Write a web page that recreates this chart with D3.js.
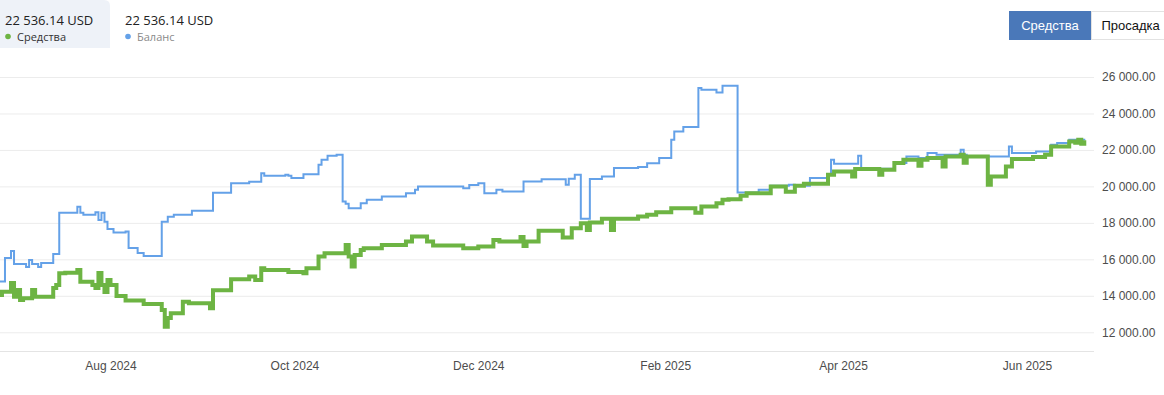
<!DOCTYPE html>
<html><head><meta charset="utf-8">
<script src="https://cdn.jsdelivr.net/npm/d3@7"></script>
<style>
body{margin:0;background:#fff;overflow:hidden}
svg{display:block}
</style></head>
<body>
<svg id="c" width="1164" height="395"></svg>
<script>
const balanceDates = ["2024-06-25","2024-06-27","2024-06-29","2024-06-30","2024-07-04","2024-07-05","2024-07-06","2024-07-08","2024-07-09","2024-07-13","2024-07-15","2024-07-21","2024-07-22","2024-07-23","2024-07-27","2024-07-28","2024-07-29","2024-07-30","2024-07-31","2024-08-02","2024-08-06","2024-08-07","2024-08-10","2024-08-12","2024-08-18","2024-08-20","2024-08-22","2024-08-28","2024-09-04","2024-09-10","2024-09-16","2024-09-20","2024-09-21","2024-09-28","2024-09-29","2024-09-30","2024-10-04","2024-10-09","2024-10-10","2024-10-12","2024-10-15","2024-10-17","2024-10-18","2024-10-19","2024-10-23","2024-10-25","2024-10-30","2024-11-07","2024-11-10","2024-11-11","2024-11-26","2024-11-28","2024-12-01","2024-12-03","2024-12-07","2024-12-09","2024-12-16","2024-12-22","2024-12-30","2024-12-31","2025-01-02","2025-01-04","2025-01-07","2025-01-11","2025-01-15","2025-01-23","2025-01-26","2025-01-30","2025-02-03","2025-02-04","2025-02-07","2025-02-12","2025-02-13","2025-02-18","2025-02-20","2025-02-25","2025-03-04","2025-03-08","2025-03-14","2025-03-16","2025-03-21","2025-03-27","2025-03-28","2025-03-29","2025-04-06","2025-04-07","2025-04-13","2025-04-18","2025-04-22","2025-04-26","2025-04-29","2025-05-02","2025-05-10","2025-05-11","2025-05-12","2025-05-26","2025-05-27","2025-06-04","2025-06-09","2025-06-11","2025-06-15","2025-06-20"];
const balanceValues = [14788,16078,16463,15749,15584,15968,15749,15584,15804,16298,18549,18878,18549,18439,18576,18164,18549,18055,17670,17467,17522,16627,16353,16188,18055,18329,18439,18659,19647,20168,20251,20728,20580,20635,20580,20454,20673,21184,21458,21678,21733,19169,19043,18807,19081,19262,19444,19630,19811,19993,19905,20075,20179,19630,19811,19718,20267,20399,20086,20420,20635,18219,20400,20542,21003,21058,21266,21552,22556,23012,23254,25395,25301,25153,25521,19663,19811,20031,20086,20031,20454,20635,21458,21239,21678,21003,20964,21277,21640,21552,21826,21733,22007,21733,21640,22189,21826,21914,22282,22375,22556,22536];

const equityDates = ["2024-06-25","2024-06-26","2024-06-29","2024-06-30","2024-07-01","2024-07-02","2024-07-03","2024-07-06","2024-07-07","2024-07-13","2024-07-14","2024-07-15","2024-07-17","2024-07-21","2024-07-22","2024-07-26","2024-07-27","2024-07-28","2024-07-29","2024-07-30","2024-07-31","2024-08-01","2024-08-03","2024-08-06","2024-08-12","2024-08-18","2024-08-19","2024-08-20","2024-08-21","2024-08-25","2024-08-27","2024-09-03","2024-09-04","2024-09-10","2024-09-16","2024-09-18","2024-09-20","2024-09-21","2024-09-29","2024-10-04","2024-10-05","2024-10-09","2024-10-11","2024-10-18","2024-10-19","2024-10-20","2024-10-21","2024-10-23","2024-10-24","2024-10-30","2024-11-07","2024-11-09","2024-11-14","2024-11-16","2024-11-26","2024-12-01","2024-12-06","2024-12-08","2024-12-15","2024-12-16","2024-12-17","2024-12-21","2024-12-29","2025-01-01","2025-01-04","2025-01-06","2025-01-07","2025-01-11","2025-01-14","2025-01-15","2025-01-23","2025-01-26","2025-01-29","2025-02-03","2025-02-11","2025-02-13","2025-02-18","2025-02-20","2025-02-22","2025-02-26","2025-02-28","2025-03-08","2025-03-13","2025-03-16","2025-03-19","2025-03-27","2025-03-29","2025-04-04","2025-04-05","2025-04-13","2025-04-14","2025-04-18","2025-04-21","2025-04-26","2025-04-27","2025-04-29","2025-05-04","2025-05-05","2025-05-10","2025-05-11","2025-05-12","2025-05-19","2025-05-20","2025-05-25","2025-05-27","2025-06-03","2025-06-07","2025-06-09","2025-06-15","2025-06-17","2025-06-18","2025-06-19","2025-06-20"];
const equityValues = [14047,14228,14706,13954,14321,13772,13866,14321,13954,14431,14596,15238,15271,15419,14777,14596,14431,15255,14596,14212,14870,14596,13992,13745,13553,13223,12307,12784,13042,13679,13591,13317,14300,14909,15052,14870,15513,15420,15310,15238,15513,16150,16336,16792,16150,15601,16243,16517,16611,16792,16973,17248,16973,16765,16611,16699,17066,16973,17231,16737,16973,17561,17204,17709,17983,17615,18016,18219,17615,18219,18346,18439,18576,18807,18557,18895,19081,19262,19301,19482,19630,19993,19700,20031,20141,20635,20816,20542,20948,20635,20909,21277,21458,21129,21458,21552,21091,21640,21733,21294,21640,20086,20542,21091,21497,21607,21733,22189,22463,22392,22556,22336,22536];

const xTickDates = ["2024-08-01","2024-10-01","2024-12-01","2025-02-01","2025-04-01","2025-06-01"];
const xTickLabels = ["Aug 2024","Oct 2024","Dec 2024","Feb 2025","Apr 2025","Jun 2025"];
const yTicks = [12000,14000,16000,18000,20000,22000,24000,26000];
const legendValues = ["22 536.14 USD","22 536.14 USD"];
const legendNames = ["Средства","Баланс"];
const buttonLabels = ["Средства","Просадка"];

const svg = d3.select("#c");
const plotLeft = 0, plotRight = 1094, plotBottom = 351;
const parse = d3.utcParse("%Y-%m-%d");

const x = d3.scaleUtc().domain([parse("2024-08-01"), parse("2025-06-01")]).range([110.5, 1027]);
const y = d3.scaleLinear().domain([11000, 26000]).range([350.5, 77]);

const fmt = v => d3.format(",.2f")(v).replace(/,/g, " ");

// gridlines + y labels
const yAxis = svg.append("g").attr("transform", `translate(${plotRight},0)`)
  .call(d3.axisRight(y).tickValues(yTicks).tickSize(-(plotRight - plotLeft)).tickPadding(8).tickFormat(fmt));
yAxis.select(".domain").remove();
yAxis.selectAll(".tick line").attr("stroke", "#ececec");
yAxis.selectAll(".tick text").attr("fill", "#4d4d4d").style("font-family", "'Liberation Sans', Arial, sans-serif").style("font-size", "12px");

// baseline
svg.append("line").attr("x1", plotLeft).attr("x2", plotRight).attr("y1", plotBottom + 0.5).attr("y2", plotBottom + 0.5).attr("stroke", "#e4e4e4");

// x axis
const xAxis = svg.append("g").attr("transform", `translate(0,${plotBottom})`)
  .call(d3.axisBottom(x).tickValues(xTickDates.map(parse)).tickSize(0).tickPadding(10).tickFormat((d, i) => xTickLabels[i]));
xAxis.select(".domain").remove();
xAxis.selectAll(".tick text").attr("fill", "#4d4d4d").style("font-family", "'Liberation Sans', Arial, sans-serif").style("font-size", "12px");

// lines
svg.append("clipPath").attr("id", "clip").append("rect").attr("x", plotLeft).attr("y", 50).attr("width", plotRight - plotLeft).attr("height", plotBottom - 50);
const line = d3.line().curve(d3.curveStepAfter).x(d => x(d[0])).y(d => y(d[1]));
const balance = balanceDates.map((d, i) => [parse(d), balanceValues[i]]);
const equity = equityDates.map((d, i) => [parse(d), equityValues[i]]);
const lines = svg.append("g").attr("clip-path", "url(#clip)");
lines.append("path").datum(balance).attr("d", line).attr("fill", "none").attr("stroke", "#64a1e8").attr("stroke-width", 2).attr("stroke-linejoin", "miter");
lines.append("path").datum(equity).attr("d", line).attr("fill", "none").attr("stroke", "#6db443").attr("stroke-width", 4).attr("stroke-linejoin", "miter");

// legend
svg.append("path").attr("d", "M0,0 H104 Q110,0 110,6 V48 H0 Z").attr("fill", "#eef2f8");
const legColors = ["#6db443", "#64a1e8"];
const legX = [5, 125];
const legNameColors = ["#333", "#8a8a8a"];
legendValues.forEach((v, i) => {
  svg.append("text").attr("x", legX[i]).attr("y", 25).text(v)
    .attr("fill", "#222").style("font-family", "'Open Sans', sans-serif").style("font-size", "13px");
  svg.append("circle").attr("cx", legX[i] + 3).attr("cy", 36.5).attr("r", 2.8).attr("fill", legColors[i]);
  svg.append("text").attr("x", legX[i] + 12).attr("y", 41).text(legendNames[i])
    .attr("fill", legNameColors[i]).style("font-family", "'Open Sans', sans-serif").style("font-size", "11px");
});

// buttons
svg.append("rect").attr("x", 1091.5).attr("y", 11.5).attr("width", 80).attr("height", 28).attr("fill", "#fff").attr("stroke", "#e2e2e2");
svg.append("rect").attr("x", 1009).attr("y", 11).attr("width", 82).attr("height", 29).attr("fill", "#4a78b9");
svg.append("text").attr("x", 1050).attr("y", 30).attr("text-anchor", "middle").text(buttonLabels[0])
  .attr("fill", "#fff").style("font-family", "'Liberation Sans', Arial, sans-serif").style("font-size", "13px");
svg.append("text").attr("x", 1101.5).attr("y", 30).text(buttonLabels[1])
  .attr("fill", "#111").style("font-family", "'Liberation Sans', Arial, sans-serif").style("font-size", "13px");
</script>
</body></html>
